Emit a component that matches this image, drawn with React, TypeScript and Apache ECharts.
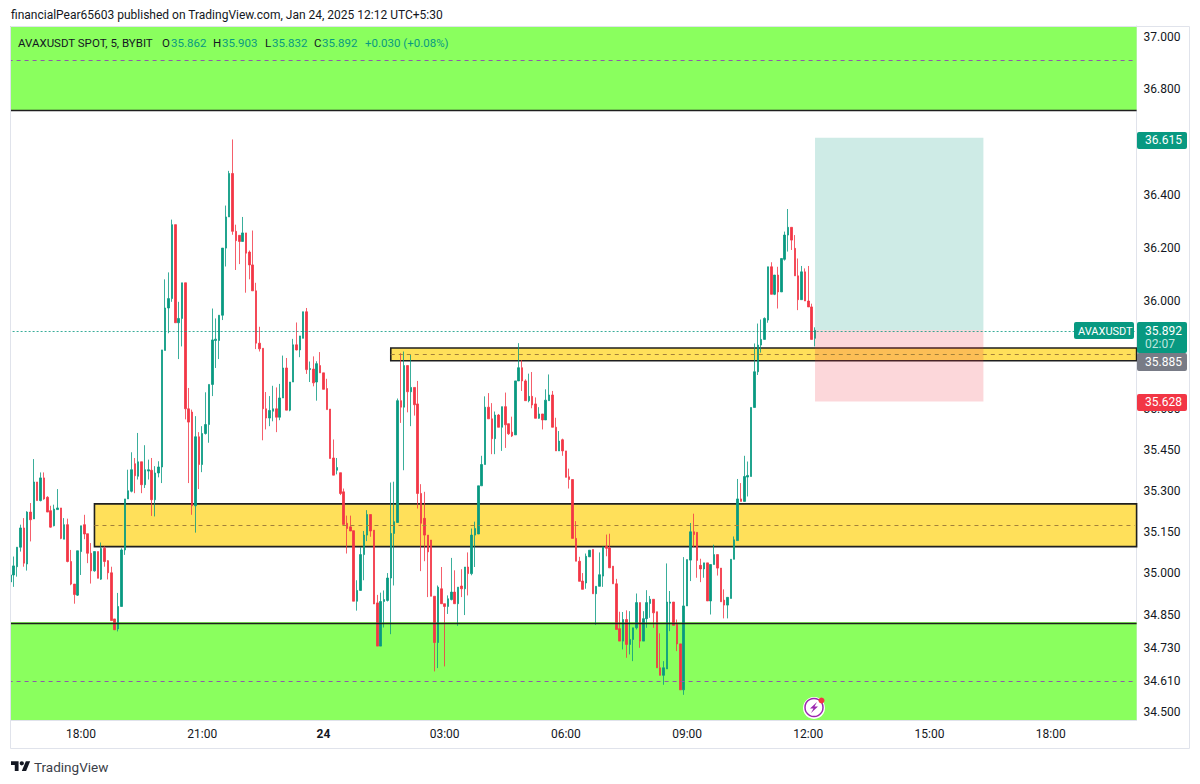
import React, { useEffect, useRef } from "react";
import * as echarts from "echarts";

const FONT = "Roboto, 'Noto Sans', sans-serif";
const UP = "#089981";
const DOWN = "#F23645";
const INK = "#131722";

// [open, close, low, high], five-minute bars
const ohlc: number[][] = [
  [34.968,34.993,34.932,34.993],[34.993,35.026,34.950,35.060],[35.023,35.094,34.987,35.094],[35.094,35.164,35.078,35.176],
  [35.164,35.036,35.023,35.200],[35.033,35.222,35.009,35.225],[35.222,35.194,35.115,35.255],[35.197,35.332,35.197,35.416],
  [35.332,35.264,35.264,35.332],[35.264,35.347,35.261,35.367],[35.347,35.270,35.267,35.367],[35.276,35.222,35.222,35.280],
  [35.227,35.167,35.165,35.245],[35.172,35.233,35.170,35.249],[35.231,35.237,35.231,35.306],[35.237,35.126,35.123,35.237],
  [35.123,35.176,35.123,35.200],[35.176,35.042,35.039,35.198],[35.042,34.960,34.956,35.084],[34.960,34.922,34.889,34.960],
  [34.920,35.081,34.917,35.081],[35.078,35.172,34.993,35.172],[35.176,35.142,35.123,35.212],[35.143,35.072,35.036,35.143],
  [35.072,35.008,34.962,35.109],[35.008,35.078,35.005,35.078],[35.078,34.981,34.981,35.078],[34.978,35.089,34.975,35.111],
  [35.090,35.042,35.023,35.097],[35.045,35.001,34.977,35.047],[35.001,34.828,34.828,35.023],[34.834,34.795,34.794,34.834],
  [34.798,34.879,34.789,34.928],[34.879,35.084,34.879,35.090],[35.084,35.270,35.066,35.270],[35.270,35.300,35.270,35.377],
  [35.298,35.377,35.294,35.441],[35.399,35.355,35.291,35.420],[35.353,35.406,35.341,35.512],[35.406,35.322,35.291,35.406],
  [35.322,35.377,35.310,35.467],[35.372,35.377,35.341,35.414],[35.375,35.267,35.208,35.420],[35.267,35.365,35.206,35.390],
  [35.365,35.387,35.349,35.408],[35.387,35.819,35.328,35.819],[35.817,35.975,35.817,36.082],[35.975,36.010,35.881,36.108],
  [36.010,36.287,35.998,36.306],[36.287,35.920,35.920,36.287],[35.920,35.936,35.785,35.998],[35.936,36.069,35.832,36.069],
  [36.069,35.601,35.562,36.069],[35.601,35.552,35.328,35.678],[35.589,35.245,35.212,35.598],[35.245,35.498,35.147,35.574],
  [35.498,35.396,35.306,35.515],[35.396,35.510,35.368,35.537],[35.510,35.543,35.506,35.662],[35.543,35.691,35.476,35.691],
  [35.691,35.856,35.648,35.973],[35.854,35.859,35.752,35.936],[35.854,35.948,35.785,35.948],[35.948,36.199,35.930,36.199],
  [36.199,36.316,36.130,36.359],[36.316,36.480,36.316,36.490],[36.480,36.262,36.249,36.609],[36.262,36.227,36.117,36.287],
  [36.247,36.224,36.139,36.247],[36.224,36.256,36.224,36.316],[36.256,36.180,36.032,36.256],[36.184,36.136,36.082,36.190],
  [36.136,36.039,36.039,36.265],[36.039,35.844,35.822,36.069],[35.844,35.823,35.813,35.905],[35.825,35.601,35.485,35.825],
  [35.601,35.567,35.525,35.663],[35.567,35.595,35.537,35.648],[35.592,35.601,35.555,35.686],[35.601,35.570,35.515,35.680],
  [35.570,35.641,35.559,35.693],[35.641,35.752,35.641,35.798],[35.752,35.596,35.596,35.789],[35.596,35.700,35.592,35.700],
  [35.700,35.838,35.700,35.860],[35.838,35.819,35.817,35.921],[35.819,35.871,35.792,35.871],[35.862,35.961,35.862,35.961],
  [35.961,35.746,35.730,35.975],[35.746,35.750,35.700,35.776],[35.748,35.697,35.684,35.795],[35.700,35.768,35.631,35.777],
  [35.761,35.734,35.734,35.811],[35.734,35.673,35.673,35.734],[35.676,35.598,35.598,35.712],[35.600,35.418,35.418,35.600],
  [35.420,35.357,35.357,35.488],[35.375,35.385,35.360,35.420],[35.366,35.290,35.284,35.366],[35.296,35.177,35.177,35.308],
  [35.181,35.162,35.071,35.209],[35.168,35.153,35.153,35.209],[35.154,34.898,34.898,35.154],[34.898,34.937,34.864,34.974],
  [34.937,35.067,34.937,35.095],[35.067,35.138,34.974,35.153],[35.138,35.213,35.116,35.229],[35.213,35.153,35.132,35.213],
  [35.156,34.888,34.888,35.156],[34.892,34.736,34.736,34.921],[34.736,34.897,34.736,34.929],[34.897,34.904,34.803,34.937],
  [34.901,34.982,34.897,35.000],[34.982,35.144,34.779,35.330],[35.144,35.187,34.955,35.333],[35.184,35.631,35.184,35.639],
  [35.631,35.607,35.549,35.807],[35.607,35.761,35.375,35.813],[35.761,35.664,35.588,35.761],[35.664,35.680,35.537,35.801],
  [35.680,35.616,35.576,35.680],[35.619,35.290,35.235,35.704],[35.290,35.181,35.007,35.324],[35.199,35.138,35.043,35.296],
  [35.138,35.077,34.913,35.138],[35.120,34.916,34.916,35.120],[34.916,34.749,34.645,34.916],[34.749,34.949,34.657,34.955],
  [34.943,34.889,34.889,35.022],[34.889,34.879,34.663,34.889],[34.879,34.907,34.852,34.919],[34.904,34.931,34.901,35.055],
  [34.931,34.889,34.889,35.010],[34.889,34.949,34.809,34.949],[34.953,34.943,34.913,35.014],[34.943,35.022,34.848,35.022],
  [35.022,34.998,34.919,35.075],[34.998,35.138,34.992,35.162],[35.138,35.162,35.022,35.187],[35.142,35.318,35.142,35.318],
  [35.318,35.396,35.318,35.428],[35.396,35.607,35.396,35.647],[35.607,35.564,35.564,35.659],[35.564,35.491,35.434,35.622],
  [35.491,35.578,35.434,35.591],[35.578,35.533,35.533,35.582],[35.533,35.609,35.446,35.609],[35.609,35.542,35.457,35.661],
  [35.546,35.509,35.505,35.546],[35.515,35.501,35.497,35.572],[35.505,35.704,35.505,35.704],[35.704,35.753,35.704,35.844],
  [35.753,35.704,35.667,35.781],[35.704,35.631,35.631,35.710],[35.631,35.647,35.625,35.731],[35.647,35.615,35.603,35.737],
  [35.619,35.566,35.566,35.643],[35.566,35.582,35.564,35.607],[35.582,35.560,35.525,35.582],[35.560,35.633,35.560,35.673],
  [35.631,35.652,35.631,35.728],[35.652,35.533,35.533,35.667],[35.533,35.446,35.446,35.568],[35.446,35.482,35.446,35.519],
  [35.487,35.446,35.428,35.491],[35.446,35.349,35.349,35.446],[35.351,35.341,35.308,35.381],[35.341,35.126,35.126,35.341],
  [35.126,35.043,35.043,35.189],[35.043,34.970,34.970,35.059],[34.971,34.941,34.941,35.000],[34.964,35.061,34.943,35.071],
  [35.059,35.083,35.059,35.083],[35.086,34.925,34.925,35.086],[34.925,34.952,34.812,34.952],[34.952,34.994,34.952,35.075],
  [34.989,35.095,34.950,35.095],[35.097,35.090,35.061,35.140],[35.091,35.019,35.019,35.143],[35.025,34.961,34.961,35.025],
  [34.961,34.796,34.796,34.979],[34.799,34.754,34.754,34.860],[34.754,34.832,34.724,34.859],[34.832,34.742,34.694,34.865],
  [34.742,34.760,34.706,34.862],[34.760,34.802,34.682,34.802],[34.802,34.893,34.796,34.926],[34.893,34.754,34.730,34.893],
  [34.754,34.835,34.754,34.862],[34.835,34.893,34.802,34.938],[34.890,34.905,34.838,34.917],[34.905,34.856,34.802,34.905],
  [34.860,34.658,34.658,34.860],[34.658,34.631,34.631,34.782],[34.631,34.658,34.597,34.682],[34.654,34.895,34.654,35.035],
  [34.891,34.895,34.790,34.935],[34.895,34.811,34.811,34.895],[34.814,34.744,34.718,34.832],[34.744,34.579,34.579,34.744],
  [34.579,34.881,34.561,35.058],[34.881,35.049,34.881,35.049],[35.047,35.150,34.971,35.182],[35.150,35.140,35.095,35.216],
  [35.148,35.046,34.983,35.148],[35.028,35.015,34.967,35.052],[35.015,35.037,34.983,35.037],[35.037,34.899,34.899,35.037],
  [34.899,35.031,34.850,35.031],[35.031,35.067,35.031,35.103],[35.067,35.018,34.991,35.067],[35.018,34.896,34.896,35.018],
  [34.902,34.884,34.836,34.941],[34.884,34.912,34.836,34.912],[34.908,35.050,34.908,35.050],[35.050,35.121,35.050,35.133],
  [35.118,35.270,35.118,35.343],[35.270,35.261,35.261,35.328],[35.261,35.352,35.261,35.428],[35.350,35.356,35.279,35.407],
  [35.352,35.606,35.352,35.606],[35.606,35.738,35.606,35.843],[35.738,35.837,35.726,35.917],[35.837,35.858,35.809,35.932],
  [35.858,35.936,35.858,35.940],[35.930,36.129,35.920,36.129],[36.129,36.026,36.026,36.146],[36.026,36.098,36.023,36.098],
  [36.098,36.035,35.973,36.129],[36.035,36.160,36.035,36.160],[36.157,36.248,36.152,36.261],[36.248,36.277,36.186,36.346],
  [36.277,36.229,36.192,36.277],[36.198,36.095,36.095,36.248],[36.095,36.006,35.967,36.160],[36.006,36.110,36.006,36.132],
  [36.110,36.001,36.001,36.123],[36.001,35.979,35.979,36.132],[35.979,35.858,35.858,35.991],[35.862,35.892,35.832,35.903],
];

const emptySlots = 95; // future bars to the right of the last candle
const firstMinutes = 16 * 60 + 15;
const categories: string[] = [];
for (let i = 0; i < ohlc.length + emptySlots; i++) {
  const total = firstMinutes + i * 5;
  const day = 23 + Math.floor(total / 1440);
  const m = total % 1440;
  categories.push(day + " " + String(Math.floor(m / 60)).padStart(2, "0") + ":" + String(m % 60).padStart(2, "0"));
}

const priceTicks = [37, 36.8, 36.4, 36.2, 36, 35.6, 35.45, 35.3, 35.15, 35, 34.85, 34.73, 34.61, 34.5];
const AXIS_MIN = 34.471;
const AXIS_MAX = 37.042;

const topZone = [36.721, AXIS_MAX];
const topZoneMid = 36.908;
const bottomZone = [AXIS_MIN, 34.823];
const bottomZoneMid = 34.611;
const wideZone = [35.096, 35.252];
const wideZoneMid = 35.174;
const narrowZone = [35.779, 35.826];
const narrowZoneMid = 35.803;
const longTarget = 36.615;
const longEntry = 35.892;
const longStop = 35.628;
const wideZoneStart = 25;
const narrowZoneStart = 113;
const longStart = 239;
const longEnd = 289;

const GREEN_ZONE = "#8AFF5E";
const YELLOW_ZONE = "#FFE05A";
const lastIndex = categories.length - 1;

const legendParts: [string, number, string][] = [
  ["AVAXUSDT SPOT, 5, BYBIT", 18, INK],
  ["O", 162, INK], ["35.862", 171, UP],
  ["H", 213, INK], ["35.903", 222, UP],
  ["L", 265, INK], ["35.832", 272, UP],
  ["C", 314, INK], ["35.892", 322, UP],
  ["+0.030 (+0.08%)", 365, UP],
];

function tag(x: number, y: number, w: number, h: number, fill: string, z = 60) {
  return { type: "rect", z, shape: { x, y, width: w, height: h, r: 2 }, style: { fill } };
}
function label(text: string, x: number, y: number, fill: string, fontSize = 12, extra: any = {}) {
  return {
    type: "text", z: 61, x, y,
    style: { text, fill, fontSize, fontFamily: FONT, textVerticalAlign: "middle", verticalAlign: "middle", ...extra },
  };
}

export default function App() {
  const ref = useRef<HTMLDivElement>(null);
  useEffect(() => {
    echarts.graphic.registerShape(
      "tvlogo",
      echarts.graphic.extendPath(
        "M14 22H7V11H0V4h14v18zM28 22h-8l7.5-18h8L28 22zM20 4a4 4 0 1 1 0 8a4 4 0 0 1 0-8z",
        {}
      )
    );
    const chart = echarts.init(ref.current!, undefined, { renderer: "svg" });
    const zoneLine = (p: number, from: number, lineStyle: any) => [
      { coord: [categories[from], p], lineStyle },
      { coord: [categories[lastIndex], p] },
    ];
    const darkLine = { color: "#1f1f1f", width: 1.4, type: "solid" };
    const purpleDash = { color: "#8E5AA8", width: 1, type: [4, 4] };
    const yellowDash = { color: "#A3803A", width: 1, type: [4, 4] };
    chart.setOption({
      animation: false,
      backgroundColor: "#ffffff",
      grid: { left: 8.6, right: 63.4, top: 26, bottom: 64, containLabel: false },
      xAxis: {
        type: "category",
        data: categories,
        boundaryGap: true,
        axisTick: { show: false },
        axisLine: { lineStyle: { color: "#E0E3EB" } },
        splitLine: { show: false },
        axisLabel: {
          color: INK,
          fontSize: 12,
          fontFamily: FONT,
          margin: 8,
          hideOverlap: false,
          interval: (i: number) => i >= 21 && (i - 21) % 36 === 0,
          formatter: (v: string) => (v.endsWith("00:00") ? "{d|" + v.slice(0, 2) + "}" : v.slice(3)),
          rich: { d: { fontWeight: "bold", fontSize: 12, color: INK, fontFamily: FONT } },
        },
      },
      yAxis: [
        {
          type: "log",
          logBase: 10,
          min: AXIS_MIN,
          max: AXIS_MAX,
          position: "right",
          axisLine: { show: false },
          axisTick: { show: false },
          axisLabel: { show: false },
          splitLine: { show: false },
          minorTick: { show: false },
          minorSplitLine: { show: false },
        },
        {
          type: "value",
          min: Math.log(AXIS_MIN),
          max: Math.log(AXIS_MAX),
          position: "right",
          axisLine: { show: true, lineStyle: { color: "#E0E3EB" } },
          axisTick: { show: false },
          splitLine: { show: false },
          axisLabel: {
            customValues: priceTicks.map((p) => Math.log(p)),
            formatter: (v: number) => Math.exp(v).toFixed(3),
            color: INK,
            fontSize: 12,
            fontFamily: FONT,
            margin: 7,
            showMinLabel: true,
            showMaxLabel: true,
          },
        },
      ],
      series: [
        {
          type: "line",
          name: "zones",
          data: [],
          silent: true,
          markArea: {
            silent: true,
            z: 1,
            data: [
              [{ yAxis: topZone[0], itemStyle: { color: GREEN_ZONE } }, { yAxis: topZone[1] }],
              [{ yAxis: bottomZone[0], itemStyle: { color: GREEN_ZONE } }, { yAxis: bottomZone[1] }],
              [
                { xAxis: categories[wideZoneStart], yAxis: wideZone[1], itemStyle: { color: YELLOW_ZONE, borderColor: "#1f1f1f", borderWidth: 1.6 } },
                { yAxis: wideZone[0] },
              ],
              [
                { xAxis: categories[narrowZoneStart], yAxis: narrowZone[1], itemStyle: { color: YELLOW_ZONE, borderColor: "#1f1f1f", borderWidth: 1.6 } },
                { yAxis: narrowZone[0] },
              ],
            ],
          },
        },
        {
          type: "candlestick",
          name: "AVAXUSDT",
          data: ohlc,
          barWidth: 2,
          itemStyle: { color: UP, color0: DOWN, borderColor: UP, borderColor0: DOWN, borderWidth: 0.8 },
          silent: true,
        },
        {
          type: "line",
          name: "levels",
          data: [],
          silent: true,
          markArea: {
            silent: true,
            z: 3,
            data: [
              [
                { xAxis: categories[longStart], yAxis: longTarget, itemStyle: { color: "rgba(8,153,129,0.2)" } },
                { xAxis: categories[longEnd], yAxis: longEntry },
              ],
              [
                { xAxis: categories[longStart], yAxis: longEntry, itemStyle: { color: "rgba(242,54,69,0.2)" } },
                { xAxis: categories[longEnd], yAxis: longStop },
              ],
            ],
          },
          markLine: {
            silent: true,
            symbol: "none",
            label: { show: false },
            animation: false,
            data: [
              { yAxis: topZone[0], lineStyle: darkLine },
              { yAxis: bottomZone[1], lineStyle: darkLine },
              { yAxis: topZoneMid, lineStyle: purpleDash },
              { yAxis: bottomZoneMid, lineStyle: purpleDash },
              zoneLine(wideZoneMid, wideZoneStart, yellowDash),
              zoneLine(narrowZoneMid, narrowZoneStart, yellowDash),
              { yAxis: longEntry, lineStyle: { color: UP, width: 1, opacity: 0.8, type: [2, 2] } },
            ],
          },
        },
      ],
      graphic: [
        { type: "rect", z: 50, shape: { x: 0, y: 20, width: 10, height: 720 }, style: { fill: "#ffffff" } },
        { type: "rect", z: 51, shape: { x: 10.5, y: 26.5, width: 1179, height: 722 }, style: { fill: "none", stroke: "#E0E3EB", lineWidth: 1 } },
        label("financialPear65603 published on TradingView.com, Jan 24, 2025 12:12 UTC+5:30", 11, 15, INK, 12),
        ...legendParts.map(([t, x, c]) => label(t, x, 43, c, 11.5)),
        tag(1074, 322, 60, 17, UP),
        label("AVAXUSDT", 1078, 331, "#ffffff", 11),
        tag(1137, 322, 50, 31, UP),
        label("35.892", 1145, 331, "#ffffff", 12),
        label("02:07", 1145, 344, "#BFE6DF", 12),
        tag(1137, 353, 50, 18, "#787B86"),
        label("35.885", 1145, 362, "#ffffff", 12),
        tag(1137, 394, 50, 17, DOWN),
        label("35.628", 1145, 402, "#ffffff", 12),
        tag(1137, 132, 50, 17, UP),
        label("36.615", 1145, 140, "#ffffff", 12),
        { type: "circle", z: 60, shape: { cx: 814, cy: 708, r: 11 }, style: { fill: "#ffffff" } },
        { type: "circle", z: 61, shape: { cx: 814, cy: 707.5, r: 9 }, style: { fill: "#ffffff", stroke: "#9C27B0", lineWidth: 1.5 } },
        { type: "polygon", z: 62, shape: { points: [[817, 702], [810, 708.5], [813.5, 708.5], [811, 713], [818, 706.5], [814.5, 706.5]] }, style: { fill: "#9C27B0" } },
        { type: "circle", z: 63, shape: { cx: 821.5, cy: 700.5, r: 3 }, style: { fill: DOWN } },
        { type: "tvlogo", z: 60, x: 11, y: 759, scaleX: 0.54, scaleY: 0.54, style: { fill: "#131722" } },
        label("TradingView", 34, 767, "#3b3e47", 13.5),
      ],
    });
    return () => chart.dispose();
  }, []);
  return (
    <div
      ref={ref}
      style={{ position: "fixed", left: 0, top: 0, width: 1200, height: 784, background: "#fff" }}
    />
  );
}
